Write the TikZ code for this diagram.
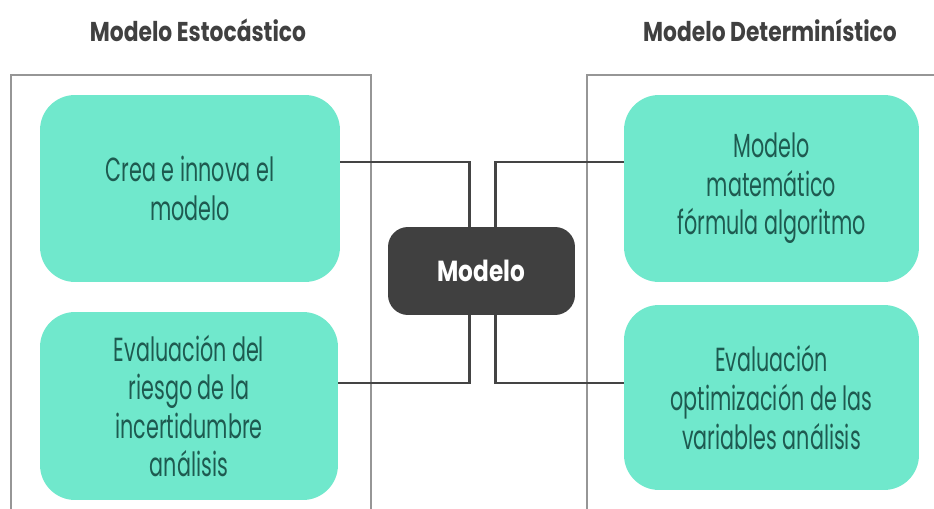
\documentclass[tikz,border=0pt]{standalone}
\usepackage{fontspec}
\setmainfont{Poppins}[FakeStretch=0.62]
\newfontfamily\headfont{Poppins}[FakeStretch=0.8]
\usepackage{tikz}
\usetikzlibrary{positioning}
\definecolor{mint}{RGB}{112,232,204}
\definecolor{minttext}{RGB}{30,90,80}
\definecolor{darkbox}{RGB}{64,64,64}
\definecolor{framegray}{RGB}{150,150,150}
\definecolor{linkgray}{RGB}{68,68,68}
\tikzset{
  mintbox/.style={rectangle, rounded corners=0.7cm, fill=mint, text=minttext, align=center, font=\fontsize{19}{22}\selectfont, inner sep=0pt},
  centerbox/.style={rectangle, rounded corners=0.4cm, fill=darkbox, text=white, font=\headfont\fontsize{16.5}{19}\selectfont\bfseries, minimum width=3.74cm, minimum height=1.76cm},
  headline/.style={text=darkbox, font=\headfont\fontsize{15.5}{18}\selectfont\bfseries},
  link/.style={draw=linkgray, line width=1.2pt},
  panel/.style={draw=framegray, line width=0.8pt}
}
\newcommand{\mintnode}[5] {\node at (#1) (#2) [mintbox, minimum width=#4, minimum height=#5] {#3};}
\newcommand{\modellink}[2] {\draw [link] (#1) -| (#2);}

\begin{document}
\begin{tikzpicture}[x=0.02cm, y=-0.02cm]
\useasboundingbox (0,0) rectangle (934,509);
\fill [white] (0,0) rectangle (934,509);

\node at (198,30) (leftTitle) [headline] {Modelo Estocástico};
\node at (770,30) (rightTitle) [headline] {Modelo Determinístico};

\draw [panel] (11,509) -- (11,75) -- (371,75) -- (371,509);
\draw [panel] (934,75) -- (587,75) -- (587,509);

\mintnode {190,188.5} {crea} {Crea e innova el\\modelo} {6cm} {3.74cm};
\mintnode {189,406} {riesgo} {Evaluación del\\riesgo de la\\incertidumbre\\análisis} {5.96cm} {3.76cm};
\mintnode {771.5,188.5} {formula} {Modelo\\matemático\\fórmula algoritmo} {5.9cm} {3.74cm};
\mintnode {771.5,397.5} {optim} {Evaluación\\optimización de las\\variables análisis} {5.9cm} {3.7cm};

\node at (481.5,271) (modelo) [centerbox] {Modelo};

\modellink {[yshift=0.53cm]crea.east} {[xshift=-0.24cm]modelo.north};
\modellink {[yshift=0.53cm]formula.west} {[xshift=0.28cm]modelo.north};
\modellink {[yshift=0.46cm]riesgo.east} {[xshift=-0.24cm]modelo.south};
\modellink {[yshift=0.29cm]optim.west} {[xshift=0.28cm]modelo.south};
\end{tikzpicture}
\end{document}
